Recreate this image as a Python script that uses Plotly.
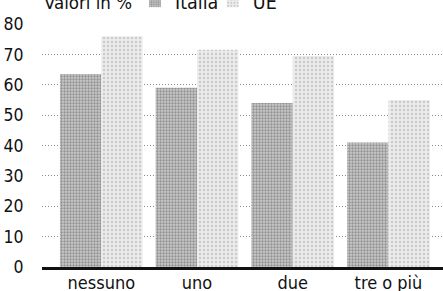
import plotly.graph_objects as go

categories = ["nessuno", "uno", "due", "tre o più"]
italia = [63.5, 59, 54, 41]
ue = [76, 71.5, 69.5, 55]
y_ticks = [0, 10, 20, 30, 40, 50, 60, 70, 80]

FONT = "DejaVu Sans Condensed, Liberation Sans Narrow, sans-serif"

fig = go.Figure()
fig.add_trace(go.Bar(
    x=categories, y=italia, name="Italia", legend="legend",
    marker=dict(color="#b0b0b0", line=dict(width=0),
                pattern=dict(shape=".", fgcolor="#5a5a5a", bgcolor="#c8c8c8",
                             size=3, solidity=0.45)),
))
fig.add_trace(go.Bar(
    x=categories, y=ue, name="UE", legend="legend2",
    marker=dict(color="#e0e0e0", line=dict(width=0),
                pattern=dict(shape=".", fgcolor="#a8a8a8", bgcolor="#ececec",
                             size=4, solidity=0.3)),
))

leg_common = dict(orientation="h", xref="paper", xanchor="left",
                  yref="container", y=0.995, yanchor="middle",
                  font=dict(family=FONT, size=19.5, color="#111111"),
                  bgcolor="rgba(0,0,0,0)", itemwidth=30)

fig.update_layout(
    width=443, height=291,
    margin=dict(l=42, r=0, t=24, b=24, autoexpand=False),
    paper_bgcolor="white", plot_bgcolor="white",
    barmode="group", bargap=0.135, bargroupgap=0,
    font=dict(family=FONT, size=17, color="#111111"),
    showlegend=True,
    legend=dict(x=0.232, **leg_common),
    legend2=dict(x=0.426, **leg_common),
    annotations=[dict(text="Valori in %", xref="paper", yref="paper",
                      x=0.0, xanchor="left", y=1.09, yanchor="middle",
                      showarrow=False, font=dict(family=FONT, size=18.5, color="#111111"))],
    xaxis=dict(range=[-0.62, 3.57], showgrid=False, showline=True, automargin=False,
               linecolor="#111111", linewidth=2.5, ticks="", ticklen=0,
               ticklabelstandoff=-2,
               tickfont=dict(family=FONT, size=18)),
    yaxis=dict(range=[0, 80], tickvals=y_ticks, showgrid=True, gridcolor="#8a8a8a",
               griddash="1px,2px", gridwidth=1, zeroline=False, showline=False,
               automargin=False,
               ticks="outside", ticklen=14, tickcolor="rgba(0,0,0,0)",
               tickfont=dict(family=FONT, size=17.5)),
)

fig.write_html("out.html", config={"displayModeBar": False},
               post_script="document.body.style.margin='0px';")
